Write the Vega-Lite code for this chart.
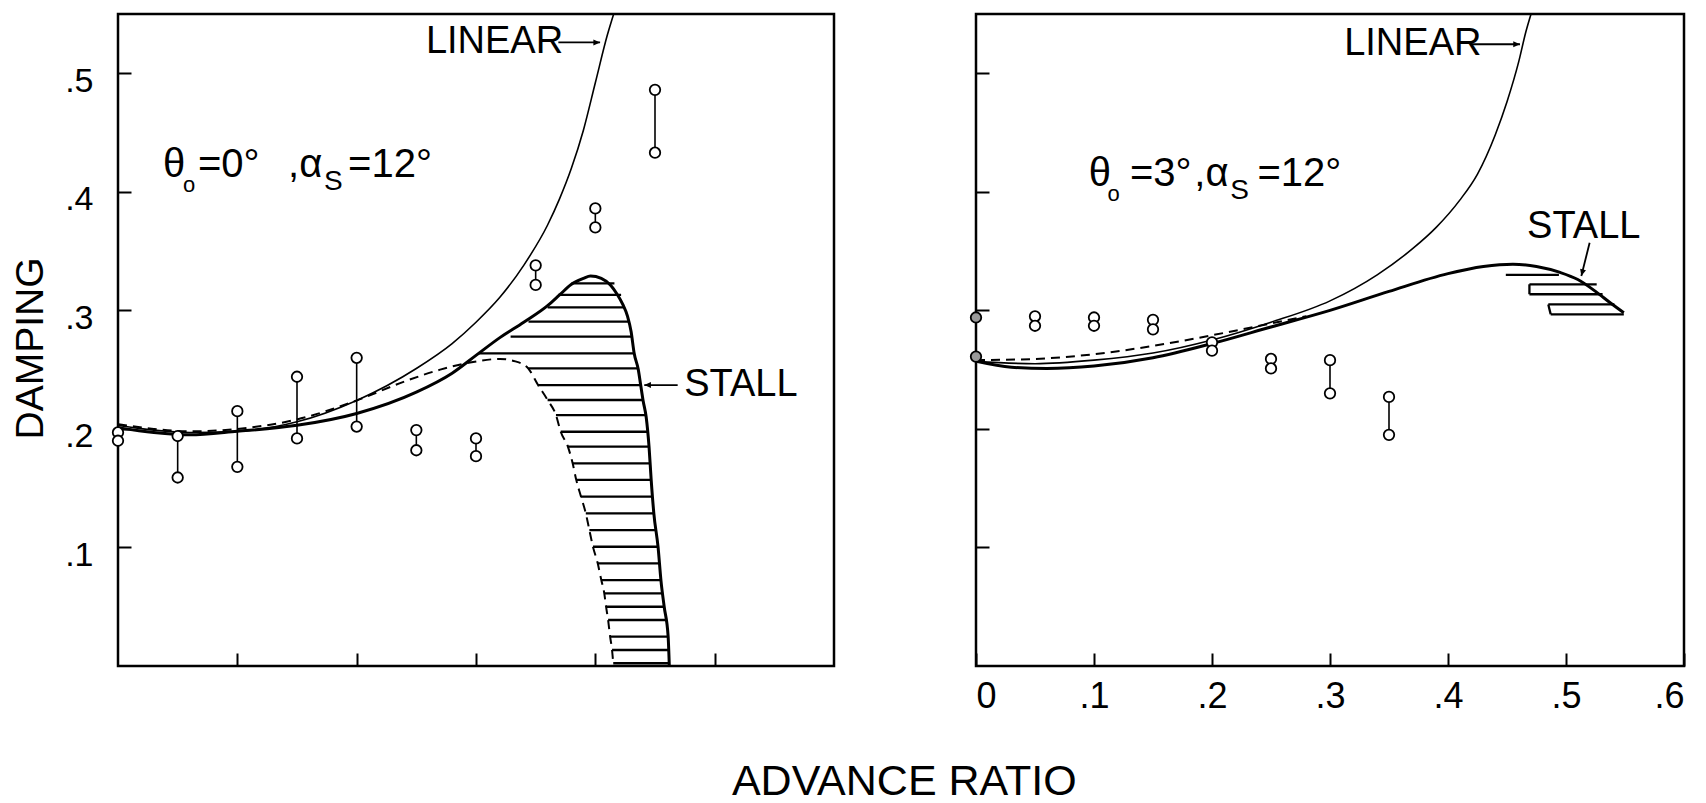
{
  "$schema": "https://vega.github.io/schema/vega-lite/v6.json",
  "background": "white",
  "padding": {"left": 10, "top": 12, "right": 6, "bottom": 0},
  "config": {
    "font": "Liberation Sans",
    "view": {"stroke": "black", "strokeWidth": 2.5},
    "axis": {
      "domain": false,
      "grid": false,
      "tickColor": "black",
      "tickWidth": 2,
      "tickSize": -13,
      "labelColor": "black",
      "labelFont": "Liberation Sans",
      "labelFontSize": 34,
      "titleFont": "Liberation Sans",
      "titleFontSize": 39,
      "titleFontWeight": "normal",
      "titleColor": "black"
    },
    "title": {"font": "Liberation Sans", "fontSize": 43, "fontWeight": "normal", "color": "black"}
  },
  "title": {"text": "ADVANCE RATIO", "orient": "bottom", "anchor": "middle", "offset": 46, "dx": 56},
  "datasets": {
    "curves": [
      {"panel": "L", "model": "linear", "x": 0, "y": 0.203},
      {"panel": "L", "model": "linear", "x": 0.03, "y": 0.199},
      {"panel": "L", "model": "linear", "x": 0.06, "y": 0.197},
      {"panel": "L", "model": "linear", "x": 0.1, "y": 0.198},
      {"panel": "L", "model": "linear", "x": 0.15, "y": 0.206},
      {"panel": "L", "model": "linear", "x": 0.2, "y": 0.224},
      {"panel": "L", "model": "linear", "x": 0.25, "y": 0.251},
      {"panel": "L", "model": "linear", "x": 0.28, "y": 0.272},
      {"panel": "L", "model": "linear", "x": 0.3, "y": 0.29},
      {"panel": "L", "model": "linear", "x": 0.32, "y": 0.311},
      {"panel": "L", "model": "linear", "x": 0.34, "y": 0.338},
      {"panel": "L", "model": "linear", "x": 0.36, "y": 0.372},
      {"panel": "L", "model": "linear", "x": 0.37, "y": 0.394},
      {"panel": "L", "model": "linear", "x": 0.38, "y": 0.42},
      {"panel": "L", "model": "linear", "x": 0.39, "y": 0.452},
      {"panel": "L", "model": "linear", "x": 0.4, "y": 0.492},
      {"panel": "L", "model": "linear", "x": 0.41, "y": 0.532},
      {"panel": "L", "model": "linear", "x": 0.416, "y": 0.552},

      {"panel": "L", "model": "stall", "x": 0, "y": 0.201},
      {"panel": "L", "model": "stall", "x": 0.03, "y": 0.197},
      {"panel": "L", "model": "stall", "x": 0.06, "y": 0.195},
      {"panel": "L", "model": "stall", "x": 0.1, "y": 0.198},
      {"panel": "L", "model": "stall", "x": 0.15, "y": 0.203},
      {"panel": "L", "model": "stall", "x": 0.2, "y": 0.213},
      {"panel": "L", "model": "stall", "x": 0.25, "y": 0.231},
      {"panel": "L", "model": "stall", "x": 0.28, "y": 0.247},
      {"panel": "L", "model": "stall", "x": 0.3, "y": 0.262},
      {"panel": "L", "model": "stall", "x": 0.32, "y": 0.277},
      {"panel": "L", "model": "stall", "x": 0.34, "y": 0.29},
      {"panel": "L", "model": "stall", "x": 0.36, "y": 0.304},
      {"panel": "L", "model": "stall", "x": 0.37, "y": 0.313},
      {"panel": "L", "model": "stall", "x": 0.38, "y": 0.322},
      {"panel": "L", "model": "stall", "x": 0.39, "y": 0.327},
      {"panel": "L", "model": "stall", "x": 0.396, "y": 0.329},
      {"panel": "L", "model": "stall", "x": 0.405, "y": 0.327},
      {"panel": "L", "model": "stall", "x": 0.413, "y": 0.321},
      {"panel": "L", "model": "stall", "x": 0.418, "y": 0.314},
      {"panel": "L", "model": "stall", "x": 0.423, "y": 0.305},
      {"panel": "L", "model": "stall", "x": 0.427, "y": 0.295},
      {"panel": "L", "model": "stall", "x": 0.43, "y": 0.282},
      {"panel": "L", "model": "stall", "x": 0.4325, "y": 0.264},
      {"panel": "L", "model": "stall", "x": 0.436, "y": 0.25},
      {"panel": "L", "model": "stall", "x": 0.438, "y": 0.237},
      {"panel": "L", "model": "stall", "x": 0.44, "y": 0.224},
      {"panel": "L", "model": "stall", "x": 0.4426, "y": 0.21},
      {"panel": "L", "model": "stall", "x": 0.445, "y": 0.185},
      {"panel": "L", "model": "stall", "x": 0.4468, "y": 0.157},
      {"panel": "L", "model": "stall", "x": 0.449, "y": 0.129},
      {"panel": "L", "model": "stall", "x": 0.4526, "y": 0.1},
      {"panel": "L", "model": "stall", "x": 0.455, "y": 0.072},
      {"panel": "L", "model": "stall", "x": 0.4577, "y": 0.05},
      {"panel": "L", "model": "stall", "x": 0.461, "y": 0.025},
      {"panel": "L", "model": "stall", "x": 0.462, "y": 0.0},

      {"panel": "L", "model": "dashed", "x": 0, "y": 0.204},
      {"panel": "L", "model": "dashed", "x": 0.03, "y": 0.2},
      {"panel": "L", "model": "dashed", "x": 0.06, "y": 0.198},
      {"panel": "L", "model": "dashed", "x": 0.1, "y": 0.2},
      {"panel": "L", "model": "dashed", "x": 0.15, "y": 0.208},
      {"panel": "L", "model": "dashed", "x": 0.2, "y": 0.224},
      {"panel": "L", "model": "dashed", "x": 0.24, "y": 0.24},
      {"panel": "L", "model": "dashed", "x": 0.27, "y": 0.25},
      {"panel": "L", "model": "dashed", "x": 0.295, "y": 0.256},
      {"panel": "L", "model": "dashed", "x": 0.32, "y": 0.259},
      {"panel": "L", "model": "dashed", "x": 0.333, "y": 0.257},
      {"panel": "L", "model": "dashed", "x": 0.3437, "y": 0.2511},
      {"panel": "L", "model": "dashed", "x": 0.352, "y": 0.237},
      {"panel": "L", "model": "dashed", "x": 0.36, "y": 0.2244},
      {"panel": "L", "model": "dashed", "x": 0.367, "y": 0.2117},
      {"panel": "L", "model": "dashed", "x": 0.371, "y": 0.1976},
      {"panel": "L", "model": "dashed", "x": 0.377, "y": 0.185},
      {"panel": "L", "model": "dashed", "x": 0.381, "y": 0.171},
      {"panel": "L", "model": "dashed", "x": 0.384, "y": 0.157},
      {"panel": "L", "model": "dashed", "x": 0.388, "y": 0.1428},
      {"panel": "L", "model": "dashed", "x": 0.392, "y": 0.1288},
      {"panel": "L", "model": "dashed", "x": 0.395, "y": 0.1147},
      {"panel": "L", "model": "dashed", "x": 0.398, "y": 0.1006},
      {"panel": "L", "model": "dashed", "x": 0.402, "y": 0.0866},
      {"panel": "L", "model": "dashed", "x": 0.405, "y": 0.0725},
      {"panel": "L", "model": "dashed", "x": 0.4075, "y": 0.0613},
      {"panel": "L", "model": "dashed", "x": 0.409, "y": 0.05},
      {"panel": "L", "model": "dashed", "x": 0.4107, "y": 0.0388},
      {"panel": "L", "model": "dashed", "x": 0.4124, "y": 0.0247},
      {"panel": "L", "model": "dashed", "x": 0.414, "y": 0.0135},
      {"panel": "L", "model": "dashed", "x": 0.415, "y": 0.0023},

      {"panel": "R", "model": "linear", "x": 0, "y": 0.257},
      {"panel": "R", "model": "linear", "x": 0.05, "y": 0.255},
      {"panel": "R", "model": "linear", "x": 0.1, "y": 0.258},
      {"panel": "R", "model": "linear", "x": 0.15, "y": 0.264},
      {"panel": "R", "model": "linear", "x": 0.2, "y": 0.275},
      {"panel": "R", "model": "linear", "x": 0.25, "y": 0.29},
      {"panel": "R", "model": "linear", "x": 0.3, "y": 0.308},
      {"panel": "R", "model": "linear", "x": 0.34, "y": 0.33},
      {"panel": "R", "model": "linear", "x": 0.37, "y": 0.352},
      {"panel": "R", "model": "linear", "x": 0.39, "y": 0.37},
      {"panel": "R", "model": "linear", "x": 0.41, "y": 0.393},
      {"panel": "R", "model": "linear", "x": 0.425, "y": 0.415},
      {"panel": "R", "model": "linear", "x": 0.44, "y": 0.448},
      {"panel": "R", "model": "linear", "x": 0.45, "y": 0.476},
      {"panel": "R", "model": "linear", "x": 0.46, "y": 0.51},
      {"panel": "R", "model": "linear", "x": 0.466, "y": 0.535},
      {"panel": "R", "model": "linear", "x": 0.471, "y": 0.552},

      {"panel": "R", "model": "stall", "x": 0, "y": 0.257},
      {"panel": "R", "model": "stall", "x": 0.03, "y": 0.252},
      {"panel": "R", "model": "stall", "x": 0.06, "y": 0.251},
      {"panel": "R", "model": "stall", "x": 0.1, "y": 0.253},
      {"panel": "R", "model": "stall", "x": 0.15, "y": 0.26},
      {"panel": "R", "model": "stall", "x": 0.2, "y": 0.272},
      {"panel": "R", "model": "stall", "x": 0.25, "y": 0.286},
      {"panel": "R", "model": "stall", "x": 0.3, "y": 0.3},
      {"panel": "R", "model": "stall", "x": 0.35, "y": 0.316},
      {"panel": "R", "model": "stall", "x": 0.4, "y": 0.331},
      {"panel": "R", "model": "stall", "x": 0.43, "y": 0.337},
      {"panel": "R", "model": "stall", "x": 0.455, "y": 0.339},
      {"panel": "R", "model": "stall", "x": 0.475, "y": 0.337},
      {"panel": "R", "model": "stall", "x": 0.495, "y": 0.332},
      {"panel": "R", "model": "stall", "x": 0.51, "y": 0.326},
      {"panel": "R", "model": "stall", "x": 0.525, "y": 0.316},
      {"panel": "R", "model": "stall", "x": 0.538, "y": 0.306},
      {"panel": "R", "model": "stall", "x": 0.549, "y": 0.298},

      {"panel": "R", "model": "dashed", "x": 0, "y": 0.258},
      {"panel": "R", "model": "dashed", "x": 0.05, "y": 0.259},
      {"panel": "R", "model": "dashed", "x": 0.1, "y": 0.263},
      {"panel": "R", "model": "dashed", "x": 0.15, "y": 0.27},
      {"panel": "R", "model": "dashed", "x": 0.2, "y": 0.279},
      {"panel": "R", "model": "dashed", "x": 0.25, "y": 0.289},
      {"panel": "R", "model": "dashed", "x": 0.28, "y": 0.295}
    ],
    "hatch": [
      {"panel": "L", "x": 0.38, "x2": 0.416, "y": 0.3228, "y2": 0.3228},
      {"panel": "L", "x": 0.369, "x2": 0.4216, "y": 0.313, "y2": 0.313},
      {"panel": "L", "x": 0.36, "x2": 0.424, "y": 0.3026, "y2": 0.3026},
      {"panel": "L", "x": 0.344, "x2": 0.428, "y": 0.2905, "y2": 0.2905},
      {"panel": "L", "x": 0.329, "x2": 0.43, "y": 0.2778, "y2": 0.2778},
      {"panel": "L", "x": 0.302, "x2": 0.4325, "y": 0.2637, "y2": 0.2637},
      {"panel": "L", "x": 0.3437, "x2": 0.4359, "y": 0.2511, "y2": 0.2511},
      {"panel": "L", "x": 0.352, "x2": 0.438, "y": 0.237, "y2": 0.237},
      {"panel": "L", "x": 0.36, "x2": 0.44, "y": 0.2244, "y2": 0.2244},
      {"panel": "L", "x": 0.367, "x2": 0.4426, "y": 0.2117, "y2": 0.2117},
      {"panel": "L", "x": 0.371, "x2": 0.444, "y": 0.1976, "y2": 0.1976},
      {"panel": "L", "x": 0.377, "x2": 0.4451, "y": 0.185, "y2": 0.185},
      {"panel": "L", "x": 0.381, "x2": 0.446, "y": 0.171, "y2": 0.171},
      {"panel": "L", "x": 0.384, "x2": 0.4468, "y": 0.157, "y2": 0.157},
      {"panel": "L", "x": 0.388, "x2": 0.448, "y": 0.1428, "y2": 0.1428},
      {"panel": "L", "x": 0.392, "x2": 0.449, "y": 0.1288, "y2": 0.1288},
      {"panel": "L", "x": 0.395, "x2": 0.451, "y": 0.1147, "y2": 0.1147},
      {"panel": "L", "x": 0.398, "x2": 0.4526, "y": 0.1006, "y2": 0.1006},
      {"panel": "L", "x": 0.402, "x2": 0.4535, "y": 0.0866, "y2": 0.0866},
      {"panel": "L", "x": 0.405, "x2": 0.455, "y": 0.0725, "y2": 0.0725},
      {"panel": "L", "x": 0.4075, "x2": 0.4568, "y": 0.0613, "y2": 0.0613},
      {"panel": "L", "x": 0.409, "x2": 0.4577, "y": 0.05, "y2": 0.05},
      {"panel": "L", "x": 0.4107, "x2": 0.4594, "y": 0.0388, "y2": 0.0388},
      {"panel": "L", "x": 0.4124, "x2": 0.461, "y": 0.0247, "y2": 0.0247},
      {"panel": "L", "x": 0.414, "x2": 0.4618, "y": 0.0135, "y2": 0.0135},
      {"panel": "L", "x": 0.415, "x2": 0.462, "y": 0.0023, "y2": 0.0023},

      {"panel": "R", "x": 0.449, "x2": 0.494, "y": 0.33, "y2": 0.33},
      {"panel": "R", "x": 0.469, "x2": 0.526, "y": 0.322, "y2": 0.322},
      {"panel": "R", "x": 0.469, "x2": 0.531, "y": 0.3136, "y2": 0.3136},
      {"panel": "R", "x": 0.469, "x2": 0.469, "y": 0.3136, "y2": 0.322},
      {"panel": "R", "x": 0.485, "x2": 0.541, "y": 0.305, "y2": 0.305},
      {"panel": "R", "x": 0.487, "x2": 0.549, "y": 0.2967, "y2": 0.2967},
      {"panel": "R", "x": 0.485, "x2": 0.487, "y": 0.305, "y2": 0.2967}
    ],
    "pairs": [
      {"panel": "L", "x": 0, "y": 0.197, "y2": 0.19},
      {"panel": "L", "x": 0.05, "y": 0.194, "y2": 0.159},
      {"panel": "L", "x": 0.1, "y": 0.215, "y2": 0.168},
      {"panel": "L", "x": 0.15, "y": 0.244, "y2": 0.192},
      {"panel": "L", "x": 0.2, "y": 0.26, "y2": 0.202},
      {"panel": "L", "x": 0.25, "y": 0.199, "y2": 0.182},
      {"panel": "L", "x": 0.3, "y": 0.192, "y2": 0.177},
      {"panel": "L", "x": 0.35, "y": 0.338, "y2": 0.3215},
      {"panel": "L", "x": 0.4, "y": 0.386, "y2": 0.37},
      {"panel": "L", "x": 0.45, "y": 0.486, "y2": 0.433},
      {"panel": "R", "x": 0.05, "y": 0.295, "y2": 0.287},
      {"panel": "R", "x": 0.1, "y": 0.294, "y2": 0.287},
      {"panel": "R", "x": 0.15, "y": 0.292, "y2": 0.284},
      {"panel": "R", "x": 0.2, "y": 0.273, "y2": 0.266},
      {"panel": "R", "x": 0.25, "y": 0.259, "y2": 0.251},
      {"panel": "R", "x": 0.3, "y": 0.258, "y2": 0.23},
      {"panel": "R", "x": 0.35, "y": 0.227, "y2": 0.195}
    ],
    "points": [
      {"panel": "L", "x": 0, "y": 0.197}, {"panel": "L", "x": 0, "y": 0.19},
      {"panel": "L", "x": 0.05, "y": 0.194}, {"panel": "L", "x": 0.05, "y": 0.159},
      {"panel": "L", "x": 0.1, "y": 0.215}, {"panel": "L", "x": 0.1, "y": 0.168},
      {"panel": "L", "x": 0.15, "y": 0.244}, {"panel": "L", "x": 0.15, "y": 0.192},
      {"panel": "L", "x": 0.2, "y": 0.26}, {"panel": "L", "x": 0.2, "y": 0.202},
      {"panel": "L", "x": 0.25, "y": 0.199}, {"panel": "L", "x": 0.25, "y": 0.182},
      {"panel": "L", "x": 0.3, "y": 0.192}, {"panel": "L", "x": 0.3, "y": 0.177},
      {"panel": "L", "x": 0.35, "y": 0.338}, {"panel": "L", "x": 0.35, "y": 0.3215},
      {"panel": "L", "x": 0.4, "y": 0.386}, {"panel": "L", "x": 0.4, "y": 0.37},
      {"panel": "L", "x": 0.45, "y": 0.486}, {"panel": "L", "x": 0.45, "y": 0.433},
      {"panel": "R", "x": 0, "y": 0.294}, {"panel": "R", "x": 0, "y": 0.261},
      {"panel": "R", "x": 0.05, "y": 0.295}, {"panel": "R", "x": 0.05, "y": 0.287},
      {"panel": "R", "x": 0.1, "y": 0.294}, {"panel": "R", "x": 0.1, "y": 0.287},
      {"panel": "R", "x": 0.15, "y": 0.292}, {"panel": "R", "x": 0.15, "y": 0.284},
      {"panel": "R", "x": 0.2, "y": 0.273}, {"panel": "R", "x": 0.2, "y": 0.266},
      {"panel": "R", "x": 0.25, "y": 0.259}, {"panel": "R", "x": 0.25, "y": 0.251},
      {"panel": "R", "x": 0.3, "y": 0.258}, {"panel": "R", "x": 0.3, "y": 0.23},
      {"panel": "R", "x": 0.35, "y": 0.227}, {"panel": "R", "x": 0.35, "y": 0.195}
    ],
    "arrows": [
      {"panel": "L", "x": 0.404, "y": 0.526, "x2": 0.369, "y2": 0.526},
      {"panel": "L", "x": 0.441, "y": 0.237, "x2": 0.469, "y2": 0.237},
      {"panel": "R", "x": 0.461, "y": 0.5245, "x2": 0.419, "y2": 0.5245},
      {"panel": "R", "x": 0.513, "y": 0.329, "x2": 0.52, "y2": 0.357}
    ],
    "labels": [
      {"panel": "L", "x": 0.258, "y": 0.526, "text": "LINEAR"},
      {"panel": "L", "x": 0.4745, "y": 0.237, "text": "STALL"},
      {"panel": "R", "x": 0.312, "y": 0.5245, "text": "LINEAR"},
      {"panel": "R", "x": 0.467, "y": 0.37, "text": "STALL"}
    ],
    "params": [
      {"panel": "L", "role": "main", "x": 0.0377, "y": 0.4127, "text": "θ"},
      {"panel": "L", "role": "subo", "x": 0.0545, "y": 0.4, "text": "o"},
      {"panel": "L", "role": "main", "x": 0.067, "y": 0.4127, "text": "=0°"},
      {"panel": "L", "role": "main", "x": 0.1425, "y": 0.4127, "text": ",α"},
      {"panel": "L", "role": "subs", "x": 0.1727, "y": 0.4015, "text": "S"},
      {"panel": "L", "role": "main", "x": 0.1928, "y": 0.4127, "text": "=12°"},
      {"panel": "R", "role": "main", "x": 0.0955, "y": 0.405, "text": "θ"},
      {"panel": "R", "role": "subo", "x": 0.1115, "y": 0.3925, "text": "o"},
      {"panel": "R", "role": "main", "x": 0.1305, "y": 0.405, "text": "=3°"},
      {"panel": "R", "role": "main", "x": 0.185, "y": 0.405, "text": ",α"},
      {"panel": "R", "role": "subs", "x": 0.2155, "y": 0.394, "text": "S"},
      {"panel": "R", "role": "main", "x": 0.2385, "y": 0.405, "text": "=12°"}
    ]
  },
  "spacing": 129,
  "hconcat": [
    {
      "width": 716,
      "height": 652,
      "encoding": {
        "x": {"field": "x", "type": "quantitative",
              "scale": {"domain": [0, 0.6], "nice": false, "zero": false},
              "axis": {"values": [0.1, 0.2, 0.3, 0.4, 0.5], "labels": false, "title": null}},
        "y": {"field": "y", "type": "quantitative",
              "scale": {"domain": [0, 0.55], "nice": false, "zero": false},
              "axis": {"values": [0.1, 0.2, 0.3, 0.4, 0.5], "title": "DAMPING",
                       "labelExpr": "replace(format(datum.value, '.1f'), '0.', '.')",
                       "labelPadding": 38, "labelOffset": 8, "titlePadding": 14, "titleY": 334}}
      },
      "layer": [
        {"data": {"name": "hatch"}, "transform": [{"filter": "datum.panel == 'L'"}],
         "mark": {"type": "rule", "color": "black", "strokeWidth": 2.3},
         "encoding": {"x2": {"field": "x2"}, "y2": {"field": "y2"}}},
        {"data": {"name": "curves"}, "transform": [{"filter": "datum.panel == 'L' && datum.model == 'linear'"}],
         "mark": {"type": "line", "color": "black", "strokeWidth": 1.6, "interpolate": "monotone", "clip": true}},
        {"data": {"name": "curves"}, "transform": [{"filter": "datum.panel == 'L' && datum.model == 'stall'"}],
         "mark": {"type": "line", "color": "black", "strokeWidth": 3, "interpolate": "monotone", "clip": true}},
        {"data": {"name": "curves"}, "transform": [{"filter": "datum.panel == 'L' && datum.model == 'dashed'"}],
         "mark": {"type": "line", "color": "black", "strokeWidth": 2, "strokeDash": [9, 6], "interpolate": "monotone", "clip": true}},
        {"data": {"name": "pairs"}, "transform": [{"filter": "datum.panel == 'L'"}],
         "mark": {"type": "rule", "color": "black", "strokeWidth": 1.6},
         "encoding": {"y2": {"field": "y2"}}},
        {"data": {"name": "points"}, "transform": [{"filter": "datum.panel == 'L'"}],
         "mark": {"type": "point", "shape": "circle", "filled": true, "fill": "white", "stroke": "black", "strokeWidth": 1.8, "size": 110, "opacity": 1}},
        {"data": {"name": "arrows"}, "transform": [{"filter": "datum.panel == 'L'"}],
         "mark": {"type": "rule", "color": "black", "strokeWidth": 1.8},
         "encoding": {"x2": {"field": "x2"}, "y2": {"field": "y2"}}},
        {"data": {"name": "arrows"}, "transform": [{"filter": "datum.panel == 'L' && datum.x2 < datum.x"}],
         "mark": {"type": "point", "shape": "M-1,-0.45L0,0L-1,0.45Z", "filled": true, "color": "black", "size": 180, "opacity": 1}},
        {"data": {"name": "arrows"}, "transform": [{"filter": "datum.panel == 'L' && datum.x2 > datum.x"}],
         "mark": {"type": "point", "shape": "M1,-0.45L0,0L1,0.45Z", "filled": true, "color": "black", "size": 180, "opacity": 1}},
        {"data": {"name": "labels"}, "transform": [{"filter": "datum.panel == 'L'"}],
         "mark": {"type": "text", "align": "left", "baseline": "middle", "fontSize": 38, "color": "black"},
         "encoding": {"text": {"field": "text"}}},
        {"data": {"name": "params"}, "transform": [{"filter": "datum.panel == 'L' && datum.role == 'main'"}],
         "mark": {"type": "text", "align": "left", "baseline": "alphabetic", "fontSize": 40, "color": "black"},
         "encoding": {"text": {"field": "text"}}},
        {"data": {"name": "params"}, "transform": [{"filter": "datum.panel == 'L' && datum.role == 'subo'"}],
         "mark": {"type": "text", "align": "left", "baseline": "alphabetic", "fontSize": 22, "color": "black"},
         "encoding": {"text": {"field": "text"}}},
        {"data": {"name": "params"}, "transform": [{"filter": "datum.panel == 'L' && datum.role == 'subs'"}],
         "mark": {"type": "text", "align": "left", "baseline": "alphabetic", "fontSize": 28, "color": "black"},
         "encoding": {"text": {"field": "text"}}}
      ]
    },
    {
      "width": 708,
      "height": 652,
      "encoding": {
        "x": {"field": "x", "type": "quantitative",
              "scale": {"domain": [0, 0.6], "nice": false, "zero": false},
              "axis": {"values": [0, 0.1, 0.2, 0.3, 0.4, 0.5, 0.6], "title": null, "labelFontSize": 36,
                       "labelExpr": "datum.value == 0 ? '0' : replace(format(datum.value, '.1f'), '0.', '.')",
                       "labelPadding": 26}},
        "y": {"field": "y", "type": "quantitative",
              "scale": {"domain": [0, 0.55], "nice": false, "zero": false},
              "axis": {"values": [0.1, 0.2, 0.3, 0.4, 0.5], "labels": false, "title": null}}
      },
      "layer": [
        {"data": {"name": "hatch"}, "transform": [{"filter": "datum.panel == 'R'"}],
         "mark": {"type": "rule", "color": "black", "strokeWidth": 2.3},
         "encoding": {"x2": {"field": "x2"}, "y2": {"field": "y2"}}},
        {"data": {"name": "curves"}, "transform": [{"filter": "datum.panel == 'R' && datum.model == 'linear'"}],
         "mark": {"type": "line", "color": "black", "strokeWidth": 1.6, "interpolate": "monotone", "clip": true}},
        {"data": {"name": "curves"}, "transform": [{"filter": "datum.panel == 'R' && datum.model == 'stall'"}],
         "mark": {"type": "line", "color": "black", "strokeWidth": 3, "interpolate": "monotone", "clip": true}},
        {"data": {"name": "curves"}, "transform": [{"filter": "datum.panel == 'R' && datum.model == 'dashed'"}],
         "mark": {"type": "line", "color": "black", "strokeWidth": 2, "strokeDash": [9, 6], "interpolate": "monotone", "clip": true}},
        {"data": {"name": "pairs"}, "transform": [{"filter": "datum.panel == 'R'"}],
         "mark": {"type": "rule", "color": "black", "strokeWidth": 1.6},
         "encoding": {"y2": {"field": "y2"}}},
        {"data": {"name": "points"}, "transform": [{"filter": "datum.panel == 'R'"}],
         "mark": {"type": "point", "shape": "circle", "filled": true, "stroke": "black", "strokeWidth": 1.8, "size": 110, "opacity": 1},
         "encoding": {"fill": {"condition": {"test": "datum.x == 0", "value": "#9a9a9a"}, "value": "white"}}},
        {"data": {"name": "arrows"}, "transform": [{"filter": "datum.panel == 'R'"}],
         "mark": {"type": "rule", "color": "black", "strokeWidth": 1.8},
         "encoding": {"x2": {"field": "x2"}, "y2": {"field": "y2"}}},
        {"data": {"name": "arrows"}, "transform": [{"filter": "datum.panel == 'R' && datum.x2 < datum.x && datum.y2 == datum.y"}],
         "mark": {"type": "point", "shape": "M-1,-0.45L0,0L-1,0.45Z", "filled": true, "color": "black", "size": 180, "opacity": 1}},
        {"data": {"name": "arrows"}, "transform": [{"filter": "datum.panel == 'R' && datum.y2 != datum.y"}],
         "mark": {"type": "point", "shape": "M-1,-0.45L0,0L-1,0.45Z", "filled": true, "color": "black", "size": 180, "opacity": 1, "angle": 105}},
        {"data": {"name": "labels"}, "transform": [{"filter": "datum.panel == 'R'"}],
         "mark": {"type": "text", "align": "left", "baseline": "middle", "fontSize": 38, "color": "black"},
         "encoding": {"text": {"field": "text"}}},
        {"data": {"name": "params"}, "transform": [{"filter": "datum.panel == 'R' && datum.role == 'main'"}],
         "mark": {"type": "text", "align": "left", "baseline": "alphabetic", "fontSize": 40, "color": "black"},
         "encoding": {"text": {"field": "text"}}},
        {"data": {"name": "params"}, "transform": [{"filter": "datum.panel == 'R' && datum.role == 'subo'"}],
         "mark": {"type": "text", "align": "left", "baseline": "alphabetic", "fontSize": 22, "color": "black"},
         "encoding": {"text": {"field": "text"}}},
        {"data": {"name": "params"}, "transform": [{"filter": "datum.panel == 'R' && datum.role == 'subs'"}],
         "mark": {"type": "text", "align": "left", "baseline": "alphabetic", "fontSize": 28, "color": "black"},
         "encoding": {"text": {"field": "text"}}}
      ]
    }
  ]
}
